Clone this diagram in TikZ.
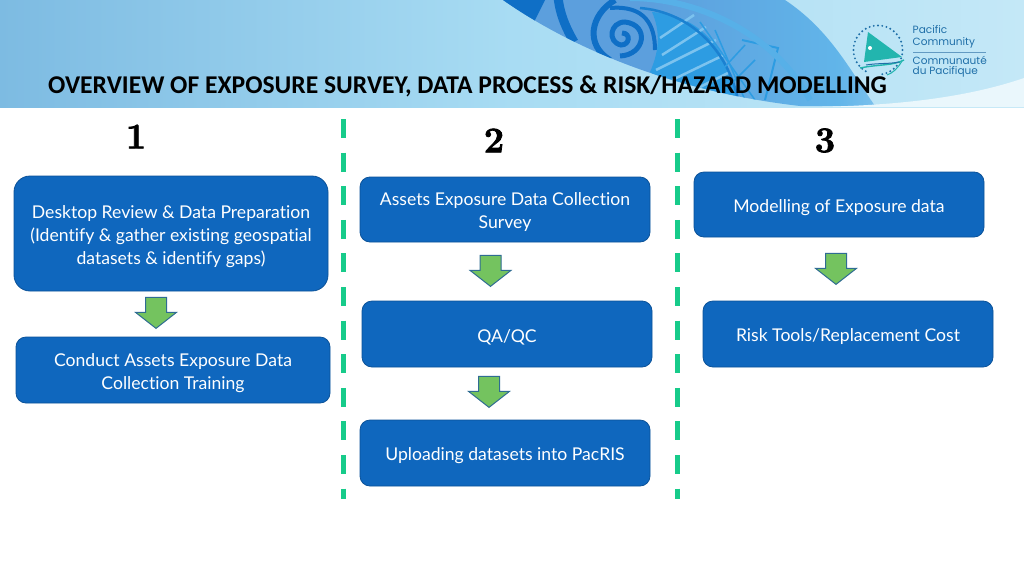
\documentclass[tikz,border=0pt]{standalone}
\usepackage{fontspec}
\setmainfont[Ligatures=NoCommon]{Lato}
\newfontfamily\titlefont{Carlito}
\newfontfamily\logofont{Poppins}
\newfontfamily\numfont[BoldFeatures={FakeBold=2.2}]{Latin Modern Roman}
\usetikzlibrary{shapes.arrows}
\definecolor{boxblue}{HTML}{0F67BE}
\definecolor{boxedge}{HTML}{0B5299}
\definecolor{dashgreen}{HTML}{17CB8A}
\definecolor{arrowgreen}{HTML}{74C35F}
\definecolor{arrowedge}{HTML}{2F6C92}
\definecolor{bandA}{HTML}{5C9FDD}
\definecolor{bandB}{HTML}{0F6FC6}
\definecolor{bandC}{HTML}{2D9CE2}
\definecolor{bandL}{HTML}{7CC3EF}
\definecolor{logoteal}{HTML}{22B5AE}
\definecolor{logoblue}{HTML}{1F6FA8}
\definecolor{banA}{HTML}{76A5D6}
\definecolor{banB}{HTML}{7DBBE2}
\definecolor{banC}{HTML}{A8DCF3}
\definecolor{banD}{HTML}{C4E8F7}
\definecolor{banE}{HTML}{EAF7FC}
\pgfdeclarehorizontalshading{bannershade}{100bp}{
  color(0bp)=(banA);
  color(25bp)=(banB);
  color(50bp)=(banC);
  color(75bp)=(banD);
  color(100bp)=(banE)}
\pgfdeclarehorizontalshading{swooshshade}{100bp}{
  color(0bp)=(bandA);
  color(45bp)=(bandA);
  color(70bp)=(bandC!75!white);
  color(85bp)=(bandC!40!white);
  color(100bp)=(banD)}
\newcommand{\lowertext}{\rule{0pt}{19pt}}
\tikzset{
  flowbox/.style={draw=boxedge,line width=0.8pt,fill=boxblue,text=white,rounded corners=#1,align=center,inner sep=0pt,font=\fontsize{17.6}{23}\selectfont},
  flowbox/.default=10pt,
  blockarrow/.style={single arrow,draw=arrowedge,line width=1pt,fill=arrowgreen,rotate=-90,inner xsep=0pt,inner ysep=10pt,
    minimum height=31pt,single arrow head extend=10pt,single arrow tip angle=104,single arrow head indent=0pt,anchor=tip},
  divider/.style={dashgreen,line width=5pt,dash pattern=on 19pt off 14.6pt},
  stepnum/.style={font=\numfont\bfseries\fontsize{36}{36}\selectfont,text=black,inner sep=0pt,anchor=center},
  logotext/.style={font=\logofont\fontsize{10.5}{13}\selectfont,text=logoblue,align=left,anchor=west,inner sep=0pt}
}
\begin{document}
\begin{tikzpicture}[x=1pt,y=-1pt]
\useasboundingbox (0,0) rectangle (1024,576);
\fill[white] (0,0) rectangle (1024,576);
% banner
\shade[shading=bannershade] (0,0) rectangle (1024,107);
\begin{scope}
  \clip (503,0) .. controls (560,40) and (660,90) .. (800,106) -- (875,106) .. controls (850,70) and (830,30) .. (785,0) -- cycle;
  \shade[shading=swooshshade] (500,0) rectangle (875,110);
  \fill[bandB] (500,-2) -- (546,-2) -- (533,24) -- (500,24) -- cycle;
  \draw[bandB,line width=9pt] (558,-3) .. controls (560,15) and (566,28) .. (574,42);
  \draw[bandB,line width=6pt] (615,0) .. controls (590,15) and (585,45) .. (610,60);
  \draw[bandB,line width=5pt] (620,56) .. controls (645,55) and (650,25) .. (625,22) .. controls (610,22) and (607,42) .. (621,45) .. controls (630,45) and (631,33) .. (622,33);
  \draw[bandB,line width=4pt] (610,8) .. controls (645,5) and (655,25) .. (655,50);
  % fan
  \fill[bandC] (652,12) .. controls (700,15) and (730,50) .. (738,105) -- (690,100) -- (650,72) .. controls (660,50) and (660,30) .. (652,12) -- cycle;
  \draw[bandL,line width=2.5pt] (660,38) -- (694,15);
  \draw[bandL,line width=2.5pt] (662,55) -- (706,27);
  \draw[bandL,line width=2.5pt] (656,70) -- (716,40);
  \draw[bandL,line width=2.5pt] (672,80) -- (724,55);
  \draw[bandL,line width=2.5pt] (690,92) -- (730,72);
  \draw[bandB!60!bandC,line width=2.5pt] (640,8) .. controls (690,12) and (728,50) .. (738,100);
  \draw[bandC,line width=1.5pt] (700,22) -- (755,100);
  \draw[bandC,line width=1.5pt] (745,100) -- (715,30);
  \draw[bandC,line width=1.5pt] (722,70) -- (745,45);
  \draw[bandC,line width=1.5pt] (730,85) -- (755,60);
  \draw[bandC,line width=2pt] (742,40) -- (778,48) -- (765,100);
  \draw[bandC!80!white,line width=6pt] (630,-2) .. controls (700,-2) and (775,35) .. (810,100);
\end{scope}
% pale sweep at lower right
\fill[banE] (795,107) .. controls (880,107) and (960,100) .. (1024,78) -- (1024,107) -- cycle;
% logo
\foreach \a in {20,30,...,340}{\fill[logoblue] (878,50)++(\a+100:24.5) circle (1.1pt);}
\fill[logoteal] (868,32) -- (902,57) -- (864,62) -- cycle;
\draw[logoteal,line width=1.4pt] (860,68) .. controls (880,64) and (892,66) .. (904,60);
\draw[logoblue,line width=1pt] (866,65) .. controls (878,63) and (890,64) .. (899,62);
\draw[logoteal,line width=1pt] (887,75) .. controls (893,73) and (898,68) .. (902,61);
\fill[white] (870,48) circle (2pt);
\node[logotext] (pacific) at (912.5,30) {Pacific};
\node[logotext] (community) at (912.5,43) {Community};
\draw[logoblue!70,line width=0.5pt] (913,52) -- (986,52);
\node[logotext] (communaute) at (912.5,60) {Communauté};
\node[logotext] (pacifique) at (912.5,72) {du Pacifique};
% title
\node[anchor=west,inner sep=0pt,font=\titlefont\bfseries\fontsize{25.6}{28}\selectfont,text=black] (title) at (48,86.5) {OVERVIEW OF EXPOSURE SURVEY, DATA PROCESS \& RISK/HAZARD MODELLING};
% dividers
\coordinate (d1t) at (343.5,119); \coordinate (d1b) at (343.5,499);
\coordinate (d2t) at (677.5,119); \coordinate (d2b) at (677.5,499);
\draw[divider] (d1t) -- (d1b);
\draw[divider] (d2t) -- (d2b);
% numbers
\node[stepnum] (n1) at (136,136.5) {1};
\node[stepnum] (n2) at (494,140.5) {2};
\node[stepnum] (n3) at (825,140.5) {3};
% boxes
\node[flowbox=16pt,minimum width=314pt,minimum height=115pt] (a) at (171,233.5) {\lowertext Desktop Review \& Data Preparation\\(Identify \& gather existing geospatial\\datasets \& identify gaps)};
\node[flowbox,minimum width=314pt,minimum height=66pt] (b) at (173,370) {\lowertext Conduct Assets Exposure Data\\Collection Training};
\node[flowbox,minimum width=290pt,minimum height=65pt] (c) at (505,209.5) {\lowertext Assets Exposure Data Collection\\Survey};
\node[flowbox,minimum width=290pt,minimum height=66pt] (d) at (507,334) {\lowertext QA/QC};
\node[flowbox,minimum width=290pt,minimum height=66pt] (e) at (505,453) {\lowertext Uploading datasets into PacRIS};
\node[flowbox,minimum width=290pt,minimum height=65pt] (f) at (839,204.5) {\lowertext Modelling of Exposure data};
\node[flowbox,minimum width=290pt,minimum height=66pt] (g) at (848,334) {\lowertext Risk Tools/Replacement Cost};
% arrows
\node[blockarrow] (ab) at (156,329) {};
\node[blockarrow] (cd) at (490.5,287) {};
\node[blockarrow] (de) at (489,408) {};
\node[blockarrow] (fg) at (836,285) {};
\end{tikzpicture}
\end{document}
